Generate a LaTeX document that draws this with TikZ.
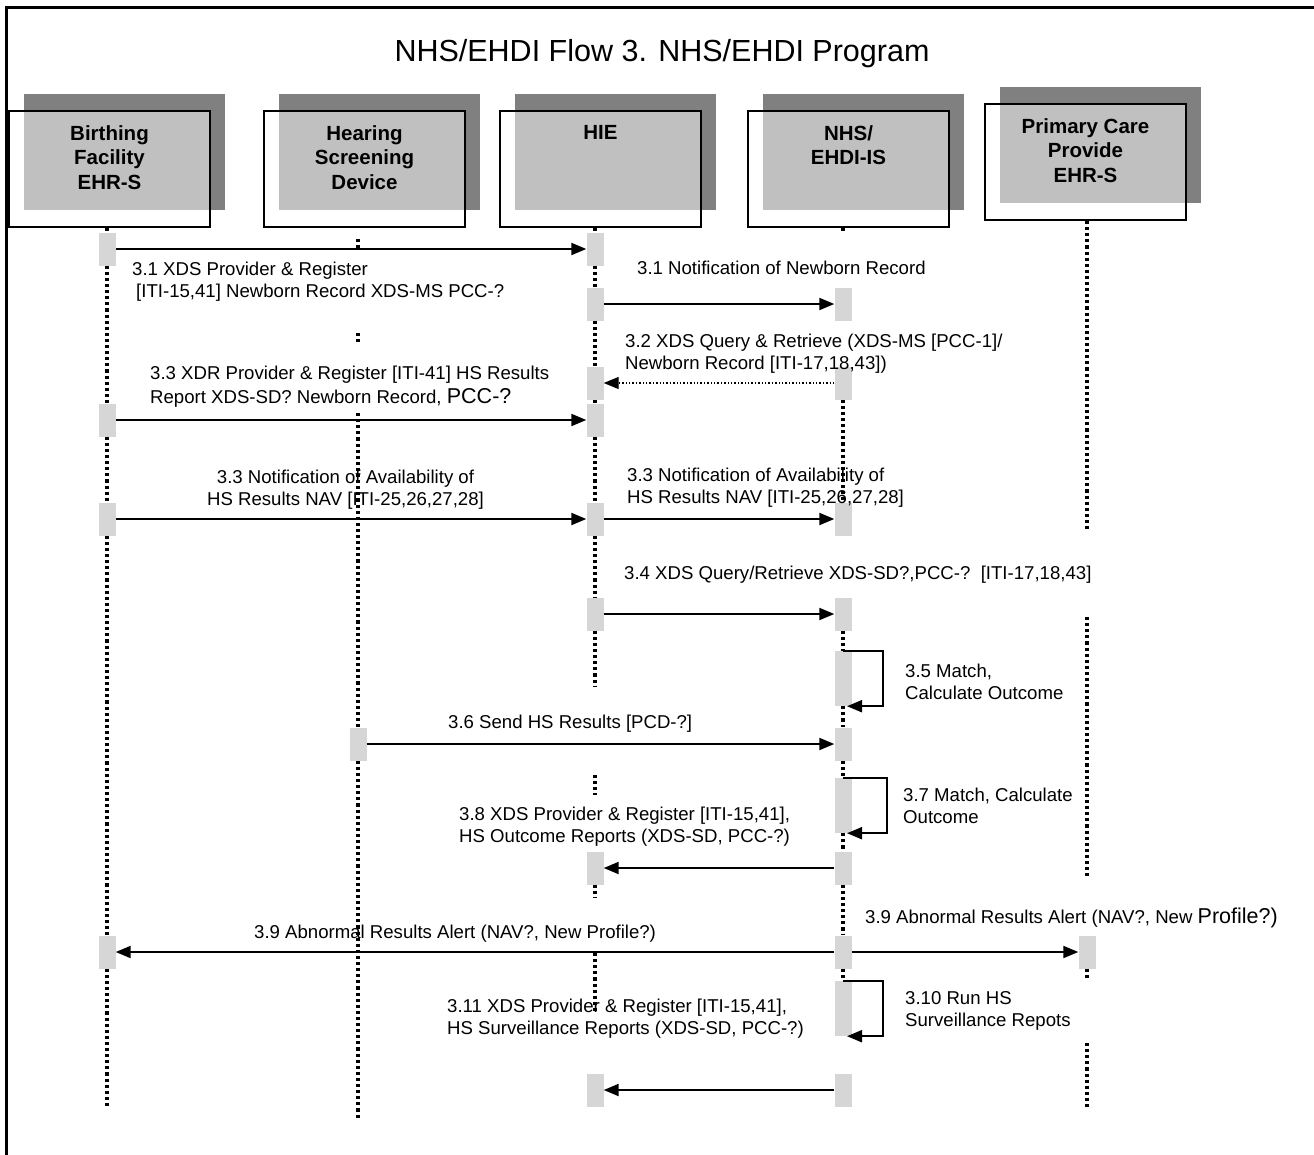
\documentclass[tikz,border=0pt]{standalone}
\usepackage{fontspec}
\setmainfont{Liberation Sans}
\usetikzlibrary{arrows.meta,calc}

\definecolor{shadowgray}{RGB}{128,128,128}
\definecolor{facegray}{RGB}{192,192,192}
\definecolor{actgray}{RGB}{214,214,214}

\tikzset{
  hdrbox/.style={draw=black, line width=2pt, minimum width=201pt, minimum height=116pt, inner sep=0pt, anchor=north west},
  hdrtext/.style={font=\bfseries\fontsize{20.5}{24.7}\selectfont, align=center, anchor=north, inner sep=0pt},
  act/.style={fill=actgray, draw=none, minimum width=17pt, minimum height=33pt, inner sep=0pt},
  selfact/.style={act, minimum height=55pt},
  life/.style={line width=3.1pt, dash pattern=on 3.1pt off 3pt},
  msg/.style={line width=2pt, -{Triangle[length=15pt,width=12pt]}},
  reply/.style={line width=1.3pt, dash pattern=on 1.4pt off 2pt, -{Triangle[length=15pt,width=12pt]}},
  lbl/.style={font=\fontsize{18.6}{21.5}\selectfont, inner sep=0pt, anchor=base west, align=left},
}

% actor header: name, left x, top y, label
\newcommand\actorbox[4]{%
  \fill[shadowgray] ({#2+16},{#3-16}) rectangle ({#2+217},{#3+100});
  \fill[facegray] ({#2+16},#3) rectangle ({#2+201},{#3+100});
  \node[hdrbox] (#1) at (#2,#3) {};
  \node[hdrtext] (#1-t) at ($(#1.north)+(0,15)$) {#4};
}

\begin{document}
\begin{tikzpicture}[x=1pt,y=-1pt]
\useasboundingbox (0,0) rectangle (1314,1154);

% outer frame (top and left edges)
\draw[line width=2.5pt] (6.5,1170) -- (6.5,7.5) -- (1330,7.5);

\node[font=\fontsize{30.5}{36}\selectfont, anchor=base, inner sep=0pt] (title) at (662,61) {NHS/EHDI Flow 3. NHS/EHDI Program};

% actors
\actorbox{bf}{8}{110}{Birthing\\Facility\\EHR-S}
\actorbox{hs}{263}{110}{Hearing\\Screening\\Device}
\actorbox{hie}{499}{110}{HIE}
\actorbox{nhs}{747}{110}{NHS/\\EHDI-IS}
\actorbox{pc}{984}{103}{Primary Care\\Provide\\EHR-S}

% activation bars
\node[act] (B1) at (107,249) {};
\node[act] (B2) at (107,420) {};
\node[act] (B3) at (107,519) {};
\node[act] (B4) at (107,952) {};

\node[act] (S1) at (358,744) {};

\node[act] (H1) at (595,249) {};
\node[act] (H2) at (595,304) {};
\node[act] (H3) at (595,383) {};
\node[act] (H4) at (595,420) {};
\node[act] (H5) at (595,519) {};
\node[act] (H6) at (595,614) {};
\node[act] (H7) at (595,868) {};
\node[act] (H8) at (595,1090) {};

\node[act] (N1) at (843,304) {};
\node[act] (N2) at (843,383) {};
\node[act] (N3) at (843,519) {};
\node[act] (N4) at (843,614) {};
\node[selfact] (N5) at (843,678.5) {};
\node[act] (N6) at (843,744) {};
\node[selfact] (N7) at (843,805.5) {};
\node[act] (N8) at (843,868) {};
\node[act] (N9) at (843,952) {};
\node[selfact] (N10) at (843,1008.5) {};
\node[act] (N11) at (843,1090) {};

\node[act] (P1) at (1087,952) {};

% lifelines
\draw[life] (B1.north |- bf.south) -- (B1.north);
\draw[life] (B1.south) -- (B2.north);
\draw[life] (B2.south) -- (B3.north);
\draw[life] (B3.south) -- (B4.north);
\draw[life] (B4.south) -- (107,1107);

\draw[life] (358,239) -- (358,250);
\draw[life] (358,333) -- (358,345);
\draw[life] (358,413) -- (S1.north);
\draw[life] (S1.south) -- (358,1120);

\draw[life] (H1.north |- hie.south) -- (H1.north);
\draw[life] (H1.south) -- (H2.north);
\draw[life] (H2.south) -- (H3.north);
\draw[life] (H3.south) -- (H4.north);
\draw[life] (H4.south) -- (H5.north);
\draw[life] (H5.south) -- (H6.north);
\draw[life] (H6.south) -- (595,686);
\draw[life] (595,775) -- (595,795);
\draw[life] (H7.south) -- (595,898);
\draw[life] (595,953) -- (595,1013);

\draw[life] (N1.north |- nhs.south) -- (843,232);
\draw[life] (N2.south) -- (N3.north);
\draw[life] (N4.south) -- (N5.north);
\draw[life] (N5.south) -- (N6.north);
\draw[life] (N6.south) -- (N7.north);
\draw[life] (N7.south) -- (N8.north);
\draw[life] (N8.south) -- (N9.north);
\draw[life] (N9.south) -- (N10.north);

\draw[life] (P1.north |- pc.south) -- (1087,532);
\draw[life] (1087,617) -- (1087,877);
\draw[life] (P1.south) -- (1087,980);
\draw[life] (1087,1043) -- (1087,1107);

% messages
\draw[msg] (B1.east) -- (H1.west);
\draw[msg] (H2.east) -- (N1.west);
\draw[reply] (N2.west) -- (H3.east);
\draw[msg] (B2.east) -- (H4.west);
\draw[msg] (B3.east) -- (H5.west);
\draw[msg] (H5.east) -- (N3.west);
\draw[msg] (H6.east) -- (N4.west);
\draw[msg] (N5.north) -- ++(40,0) |- ([xshift=4pt]N5.south);
\draw[msg] (S1.east) -- (N6.west);
\draw[msg] (N7.north) -- ++(44,0) |- ([xshift=4pt]N7.south);
\draw[msg] (N8.west) -- (H7.east);
\draw[msg] (N9.west) -- (B4.east);
\draw[msg] (N9.east) -- (P1.west);
\draw[msg] (N10.north) -- ++(40,0) |- ([xshift=4pt]N10.south);
\draw[msg] (N11.west) -- (H8.east);

% message labels (two-line labels sit on the baseline of their last line)
\node[lbl] (t31) at (132,297) {3.1 XDS Provider \& Register\\\hspace{4pt}[ITI-15,41] Newborn Record XDS-MS PCC-?};
\node[lbl] (t31n) at (637,274.5) {3.1 Notification of Newborn Record};
\node[lbl] (t32) at (625,369) {3.2 XDS Query \& Retrieve (XDS-MS [PCC-1]/\\Newborn Record [ITI-17,18,43])};
\node[lbl] (t33a) at (150,403) {3.3 XDR Provider \& Register [ITI-41] HS Results\\[2pt]Report XDS-SD? Newborn Record, {\fontsize{21.5}{24}\selectfont PCC-?}};
\node[lbl, anchor=base, align=center] (t33b) at (345.5,505) {3.3 Notification of Availability of\\HS Results NAV [ITI-25,26,27,28]};
\node[lbl] (t33c) at (627,503) {3.3 Notification of Availability of\\HS Results NAV [ITI-25,26,27,28]};
\node[lbl] (t34) at (624,579.5) {3.4 XDS Query/Retrieve XDS-SD?,PCC-?\ \ [ITI-17,18,43]};
\node[lbl] (t35) at (905,699) {3.5 Match,\\Calculate Outcome};
\node[lbl] (t36) at (448,728.5) {3.6 Send HS Results [PCD-?]};
\node[lbl] (t37) at (903,823) {3.7 Match, Calculate\\Outcome};
\node[lbl] (t38) at (459,842) {3.8 XDS Provider \& Register [ITI-15,41],\\HS Outcome Reports (XDS-SD, PCC-?)};
\node[lbl] (t39a) at (254,938.5) {3.9 Abnormal Results Alert (NAV?, New Profile?)};
\node[lbl] (t39b) at (865,923.5) {3.9 Abnormal Results Alert (NAV?, New {\fontsize{21.5}{24}\selectfont Profile?)}};
\node[lbl] (t310) at (905,1026) {3.10 Run HS\\Surveillance Repots};
\node[lbl] (t311) at (447,1034) {3.11 XDS Provider \& Register [ITI-15,41],\\HS Surveillance Reports (XDS-SD, PCC-?)};
\end{tikzpicture}
\end{document}
